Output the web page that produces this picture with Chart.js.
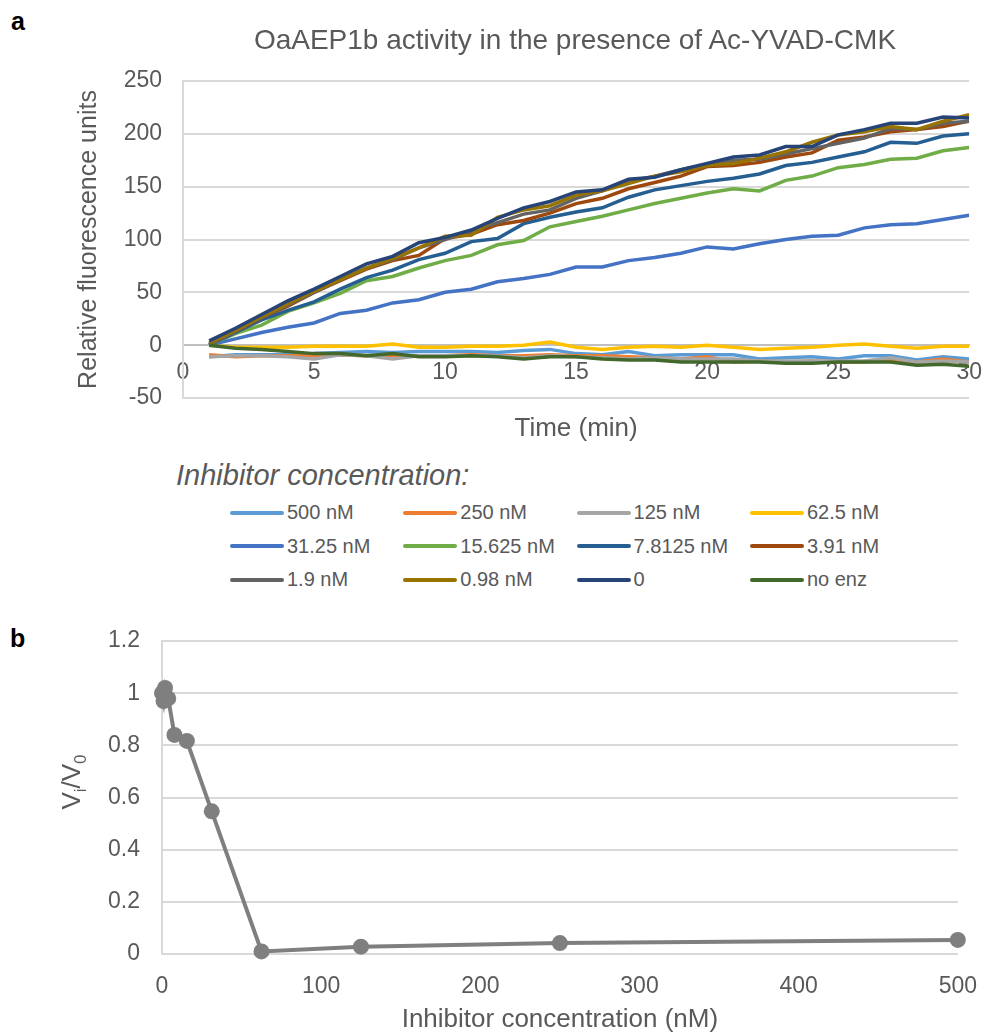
<!DOCTYPE html>
<html>
<head>
<meta charset="utf-8">
<script src="https://cdn.jsdelivr.net/npm/chart.js@4.4.0/dist/chart.umd.min.js"></script>
<style>
    body {
        margin: 0;
        background: #fff;
        width: 996px;
        height: 1035px;
        position: relative;
        overflow: hidden;
        font-family: "Liberation Sans", Arial, sans-serif;
    }
    .tag { position: absolute; font-weight: bold; font-size: 25px; color: #000; line-height: 1; }
    #chartA { position: absolute; left: 0; top: 0; }
    #chartB { position: absolute; left: 0; top: 600px; }
    #titleA { position: absolute; left: 575px; top: 23px; transform: translateX(-50%); font-size: 28px; color: #595959; line-height: 34px; white-space: nowrap; }
    #legendHead { position: absolute; left: 176px; top: 458px; font-style: italic; font-size: 29px; color: #595959; line-height: 34px; }
    #legend { position: absolute; left: 230px; top: 496px; display: grid; grid-template-columns: repeat(4, 173.3px); }
    #legend .item { display: flex; align-items: center; height: 33.5px; font-size: 20px; color: #595959; white-space: nowrap; }
    #legend .swatch { width: 54px; height: 4px; margin-right: 3px; border-radius: 2px; }
</style>
</head>
<body>
<div class="tag" style="left:11px; top:9px;">a</div>
<div class="tag" style="left:10px; top:626px;">b</div>
<canvas id="chartA" width="996" height="450"></canvas>
<div id="titleA">OaAEP1b activity in the presence of Ac-YVAD-CMK</div>
<div id="legendHead">Inhibitor concentration:</div>
<div id="legend"></div>
<canvas id="chartB" width="996" height="435"></canvas>
<script>
    const FONT = '"Liberation Sans", Arial, sans-serif';
    const TXT = '#595959';
    const GRID = '#d9d9d9';

    // panel a: fluorescence over time, one series per inhibitor concentration
    const times = [1, 2, 3, 4, 5, 6, 7, 8, 9, 10, 11, 12, 13, 14, 15, 16, 17, 18, 19, 20, 21, 22, 23, 24, 25, 26, 27, 28, 29, 30];
    const seriesNames = ['500 nM', '250 nM', '125 nM', '62.5 nM', '31.25 nM', '15.625 nM', '7.8125 nM', '3.91 nM', '1.9 nM', '0.98 nM', '0', 'no enz'];
    const seriesColors = ['#5b9bd5', '#ed7d31', '#a5a5a5', '#ffc000', '#4472c4', '#70ad47', '#255e91', '#9e480e', '#636363', '#997300', '#264478', '#43682b'];

    const inh500 = [-11, -9, -9, -9, -8, -7, -6, -7, -6, -6, -6, -7, -5, -4, -8, -9, -6, -10, -9, -9, -9, -13, -12, -11, -13, -10, -10, -14, -11, -13];
    const inh250 = [-9, -11, -10, -10, -10, -9, -10, -10, -10, -10, -9, -10, -10, -9, -10, -10, -11, -12, -13, -11, -16, -15, -16, -15, -16, -16, -14, -16, -13, -16];
    const inh125 = [-11, -10, -10, -11, -13, -9, -10, -13, -10, -10, -10, -10, -12, -10, -11, -12, -13, -12, -13, -13, -13, -15, -15, -15, -15, -15, -12, -16, -15, -16];
    const inh62 = [0, -2, -2, -2, -1, -1, -1, 1, -2, -2, -1, -1, 0, 3, -2, -4, -2, -1, -2, 0, -2, -4, -3, -2, 0, 1, -1, -3, -1, -1];
    const inh31 = [0, 6, 12, 17, 21, 30, 33, 40, 43, 50, 53, 60, 63, 67, 74, 74, 80, 83, 87, 93, 91, 96, 100, 103, 104, 111, 114, 115, 119, 123];
    const inh15 = [0, 11, 19, 32, 40, 49, 61, 65, 73, 80, 85, 95, 99, 112, 117, 122, 128, 134, 139, 144, 148, 146, 156, 160, 168, 171, 176, 177, 184, 187];
    const inh7 = [0, 12, 24, 33, 41, 53, 64, 71, 81, 87, 98, 101, 115, 121, 126, 130, 140, 147, 151, 155, 158, 162, 170, 173, 178, 183, 192, 191, 198, 200];
    const inh3 = [1, 13, 26, 37, 50, 61, 72, 80, 85, 101, 105, 114, 118, 125, 134, 139, 148, 154, 160, 169, 170, 173, 178, 182, 194, 197, 202, 204, 207, 212];
    const inh1 = [0, 13, 26, 38, 50, 62, 73, 81, 92, 100, 108, 116, 124, 128, 139, 146, 155, 160, 166, 171, 175, 176, 181, 186, 191, 196, 205, 204, 210, 212];
    const inh098 = [2, 14, 27, 39, 51, 62, 73, 82, 92, 103, 104, 121, 128, 132, 142, 146, 153, 160, 164, 170, 172, 177, 183, 192, 199, 202, 207, 204, 212, 218];
    const inh0 = [4, 16, 29, 42, 53, 65, 77, 84, 97, 102, 109, 120, 130, 136, 145, 147, 157, 159, 166, 172, 178, 180, 188, 188, 199, 204, 210, 210, 216, 215];
    const noEnz = [0, -3, -4, -6, -8, -8, -10, -8, -11, -11, -10, -11, -13, -11, -11, -13, -14, -14, -16, -16, -16, -16, -17, -17, -16, -16, -16, -19, -18, -20];
    const seriesValues = [inh500, inh250, inh125, inh62, inh31, inh15, inh7, inh3, inh1, inh098, inh0, noEnz];

    // panel b: relative rate vs inhibitor concentration
    const concNM = [0, 0.98, 1.9, 3.91, 7.8125, 15.625, 31.25, 62.5, 125, 250, 500];
    const ratioVi = [1, 0.97, 1.02, 0.98, 0.84, 0.817, 0.547, 0.01, 0.028, 0.042, 0.054];

    const datasetsA = seriesValues.map((vals, i) => ({
        label: seriesNames[i],
        data: vals.map((v, k) => ({x: times[k], y: v})),
        borderColor: seriesColors[i],
        backgroundColor: seriesColors[i],
        borderWidth: 3.5,
        pointRadius: 0,
        tension: 0,
        order: seriesValues.length - i   // later series drawn on top, like the original
    }));

    new Chart(document.getElementById('chartA'), {
        type: 'line',
        data: {datasets: datasetsA},
        options: {
            responsive: false,
            animation: false,
            layout: {padding: {left: 74, right: 16, top: 81, bottom: 0}},
            plugins: {
                legend: {display: false},
                tooltip: {enabled: false},
                title: {display: false}
            },
            scales: {
                x: {
                    type: 'linear', min: 0, max: 30, position: 'bottom',
                    ticks: {display: false},
                    grid: {display: false},
                    border: {display: false},
                    title: {display: true, text: 'Time (min)', color: TXT, font: {family: FONT, size: 26}, padding: {top: 0, bottom: 6}},
                    afterFit: (s) => { s.height = 52; }
                },
                x2: {
                    type: 'linear', min: 0, max: 30, position: {y: 0},
                    ticks: {stepSize: 5, color: TXT, font: {family: FONT, size: 23}, padding: 14, maxRotation: 0},
                    grid: {display: false, drawTicks: false},
                    border: {display: true, color: '#bfbfbf', width: 2}
                },
                y: {
                    min: -50, max: 250,
                    ticks: {stepSize: 50, color: TXT, font: {family: FONT, size: 23}, padding: 21},
                    grid: {color: GRID, lineWidth: 2, drawTicks: false},
                    border: {display: true, color: GRID, width: 2},
                    title: {display: true, text: 'Relative fluorescence units', color: TXT, font: {family: FONT, size: 25}, padding: 0},
                    afterFit: (s) => { s.width = 183 - 74; }
                }
            }
        }
    });

    // legend for panel a, laid out in 4 columns like the original
    const legendBox = document.getElementById('legend');
    seriesNames.forEach((name, i) => {
        const item = document.createElement('div');
        item.className = 'item';
        item.innerHTML = `<span class="swatch" style="background:${seriesColors[i]}"></span><span>${name}</span>`;
        legendBox.appendChild(item);
    });

    // y title for panel b has subscripts, so it is drawn by hand
    const viTitle = {
        id: 'viTitle',
        afterDraw(chart) {
            const ctx = chart.ctx;
            const big = `26px ${FONT}`;
            const small = `17px ${FONT}`;
            const parts = [['V', big, 0], ['i', small, 6], ['/V', big, 0], ['0', small, 6]];
            ctx.save();
            let total = 0;
            parts.forEach(p => { ctx.font = p[1]; total += ctx.measureText(p[0]).width; });
            ctx.translate(80, 182);
            ctx.rotate(-Math.PI / 2);
            ctx.fillStyle = TXT;
            ctx.textBaseline = 'alphabetic';
            let x = -total / 2;
            parts.forEach(p => {
                ctx.font = p[1];
                ctx.fillText(p[0], x, p[2]);
                x += ctx.measureText(p[0]).width;
            });
            ctx.restore();
        }
    };

    new Chart(document.getElementById('chartB'), {
        type: 'line',
        data: {
            datasets: [{
                data: concNM.map((c, i) => ({x: c, y: ratioVi[i]})),
                borderColor: '#7f7f7f',
                backgroundColor: '#7f7f7f',
                borderWidth: 4,
                pointRadius: 8,
                pointBorderWidth: 0,
                pointBackgroundColor: '#7f7f7f',
                tension: 0,
                clip: false
            }]
        },
        options: {
            responsive: false,
            animation: false,
            layout: {padding: {left: 0, right: 38, top: 41, bottom: 0}},
            plugins: {legend: {display: false}, tooltip: {enabled: false}},
            scales: {
                x: {
                    type: 'linear', min: 0, max: 500,
                    ticks: {stepSize: 100, color: TXT, font: {family: FONT, size: 23}, padding: 19, maxRotation: 0},
                    grid: {display: false, drawTicks: false},
                    border: {display: false},
                    title: {display: true, text: 'Inhibitor concentration (nM)', color: TXT, font: {family: FONT, size: 26}, padding: {top: 0, bottom: 0}},
                    afterFit: (s) => { s.height = 81; }
                },
                y: {
                    min: 0, max: 1.2,
                    ticks: {
                        stepSize: 0.2, color: TXT, font: {family: FONT, size: 23}, padding: 22,
                        callback: (v) => String(Math.round(v * 10) / 10)
                    },
                    grid: {color: GRID, lineWidth: 2, drawTicks: false},
                    border: {display: true, color: GRID, width: 2},
                    afterFit: (s) => { s.width = 162; }
                }
            }
        },
        plugins: [viTitle]
    });
</script>
</body>
</html>
